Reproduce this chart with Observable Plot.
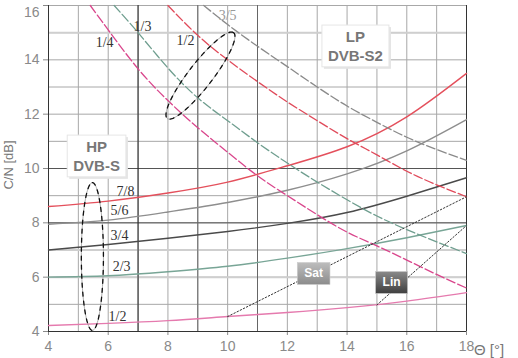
<!DOCTYPE html>
<html><head><meta charset="utf-8">
<script src="https://cdn.jsdelivr.net/npm/d3@7"></script>
<script src="https://cdn.jsdelivr.net/npm/@observablehq/plot@0.6"></script>
<style>
body{margin:0;background:#fff;}
#chart{position:relative;width:518px;height:358px;}
</style></head><body><div id="chart"></div>
<script>
// ---- data ----
const xTicks = [4, 6, 8, 10, 12, 14, 16, 18];
const yTicks = [4, 6, 8, 10, 12, 14, 16];
const gridX = [4, 5, 6, 7, 8, 9, 10, 11, 12, 13, 14, 15, 16, 17, 18];
const gridY = [4, 5, 6, 7, 8, 9, 10, 11, 12, 13, 14, 15, 16];

// HP DVB-S (solid, rising)
const hpX  = [4, 6, 8, 10, 12, 14, 16, 18];
const hp78 = [8.6, 8.8, 9.1, 9.5, 10.1, 10.8, 11.9, 13.5];
const hp56 = [7.95, 8.1, 8.4, 8.75, 9.2, 9.8, 10.65, 11.8];
const hp34 = [7.0, 7.2, 7.43, 7.68, 7.98, 8.38, 8.98, 9.66];
const hp23 = [6.0, 6.05, 6.2, 6.4, 6.7, 7.05, 7.45, 7.9];
const hp12 = [4.22, 4.3, 4.4, 4.55, 4.7, 4.88, 5.12, 5.43];
const hpRates = ["7/8", "5/6", "3/4", "2/3", "1/2"];
const hpLabelX = [6.58, 6.38, 6.38, 6.45, 6.31];
const hpLabelY = [9.15, 8.45, 7.53, 6.39, 4.55];

// LP DVB-S2 (dashed, falling)
const lp14X = [5.4, 6, 7, 8, 9, 10, 11, 12, 13, 14, 15, 16, 17, 18];
const lp14Y = [16, 15.1, 13.67, 12.5, 11.5, 10.6, 9.73, 9.0, 8.3, 7.66, 7.15, 6.63, 6.1, 5.6];
const lp13X = [6.2, 7, 8, 9, 10, 11, 12, 13, 14, 15, 16, 17, 18];
const lp13Y = [16, 15, 13.7, 12.6, 11.76, 10.95, 10.2, 9.5, 8.85, 8.25, 7.75, 7.3, 6.87];
const lp12X = [8, 9, 10, 11, 12, 13, 14, 15, 16, 17, 18];
const lp12Y = [16, 14.9, 14.0, 13.2, 12.45, 11.76, 11.1, 10.5, 9.9, 9.4, 8.96];
const lp35X = [9.2, 10, 11, 12, 13, 14, 15, 16, 17, 18];
const lp35Y = [16, 15.3, 14.5, 13.75, 13.0, 12.3, 11.7, 11.15, 10.7, 10.3];
const lpRates = ["1/4", "1/3", "1/2", "3/5"];
const lpLabelX = [5.88, 7.15, 8.59, 10.0];
const lpLabelY = [14.64, 15.23, 14.71, 15.63];

// Sat / Lin dotted lines
const satX = [10, 18], satY = [4.55, 8.96];
const linX = [15, 18], linY = [4.98, 7.9];

// boxed annotations
const boxTexts = ["LP\nDVB-S2", "HP\nDVB-S"];
const boxX = [14.28, 5.61], boxY = [14.53, 10.48];
const tagTexts = ["Sat", "Lin"];
const tagX = [12.88, 15.49], tagY = [6.13, 5.8];

// grouping ellipses (centre, half-axis vectors in data units)
const ellHP = {cx: 5.47, cy: 6.76, ax: 0, ay: 2.72, bx: 0.37, by: 0};
const ellLP = {cx: 9.09, cy: 13.42, ax: 1.11, ay: 1.58, bx: 0.32, by: -0.27};

// ---- styles ----
const hpColors = ["#e4505c", "#8e8e8e", "#4a4a4a", "#78a596", "#e57aae"];
const hpSeries = [hp78, hp56, hp34, hp23, hp12];
const lpColors = ["#d9468c", "#6f9e8f", "#e04a5a", "#8a8a8a"];
const lpSeries = [[lp14X, lp14Y], [lp13X, lp13Y], [lp12X, lp12Y], [lp35X, lp35Y]];

const ellipse = e => d3.range(0, 361, 3).map(t => {
  const a = t * Math.PI / 180;
  return {x: e.cx + e.ax * Math.cos(a) + e.bx * Math.sin(a), y: e.cy + e.ay * Math.cos(a) + e.by * Math.sin(a)};
});

const marks = [];
// grid
marks.push(Plot.ruleX(gridX, {stroke: "#a8a8a8", strokeWidth: 1}));
marks.push(Plot.ruleY(gridY, {stroke: "#a8a8a8", strokeWidth: 1}));
marks.push(Plot.ruleY([15, 7, 6], {stroke: "#cfcfcf", strokeWidth: 2}));
marks.push(Plot.ruleY([10, 8], {stroke: "#555", strokeWidth: 1}));
marks.push(Plot.ruleX([9, 11], {stroke: "#666", strokeWidth: 1}));
marks.push(Plot.ruleX([7], {stroke: "#222", strokeWidth: 1}));
// frame
marks.push(Plot.ruleX([4, 18], {stroke: "#333", strokeWidth: 1}));
marks.push(Plot.ruleY([4], {stroke: "#333", strokeWidth: 1}));

// HP curves
hpSeries.forEach((ys, i) => {
  marks.push(Plot.line(hpX.map((x, j) => ({x, y: ys[j]})), {x: "x", y: "y", curve: "natural", stroke: hpColors[i], strokeWidth: 1.4}));
});
// LP curves
lpSeries.forEach(([xs, ys], i) => {
  marks.push(Plot.line(xs.map((x, j) => ({x, y: ys[j]})), {x: "x", y: "y", curve: "natural", stroke: lpColors[i], strokeWidth: 1.3, strokeDasharray: "9,3"}));
});
// Sat / Lin
marks.push(Plot.line(satX.map((x, j) => ({x, y: satY[j]})), {x: "x", y: "y", stroke: "#333", strokeWidth: 1, strokeDasharray: "1.5,2"}));
marks.push(Plot.line(linX.map((x, j) => ({x, y: linY[j]})), {x: "x", y: "y", stroke: "#333", strokeWidth: 1, strokeDasharray: "1.5,2"}));

// ellipses
[ellHP, ellLP].forEach(e => {
  marks.push(Plot.line(ellipse(e), {x: "x", y: "y", stroke: "#999", strokeWidth: 0.8, curve: "linear"}));
  marks.push(Plot.line(ellipse(e), {x: "x", y: "y", stroke: "#111", strokeWidth: 1.3, strokeDasharray: "4,5", curve: "linear"}));
});

// rate labels
marks.push(Plot.text(hpRates.map((t, i) => ({t, x: hpLabelX[i], y: hpLabelY[i]})), {x: "x", y: "y", text: "t", fontFamily: "Liberation Serif", fontSize: 14, fill: "#333"}));
marks.push(Plot.text(lpRates.map((t, i) => ({t, x: lpLabelX[i], y: lpLabelY[i]})), {x: "x", y: "y", text: "t", fontFamily: "Liberation Serif", fontSize: 14, fill: (d) => d.t === "3/5" ? "#999" : "#333"}));

// boxes
marks.push(Plot.text(boxTexts.map((t, i) => ({t, x: boxX[i], y: boxY[i]})), {x: "x", y: "y", text: "t", fontFamily: "Liberation Sans", fontWeight: "bold", fontSize: 15, fill: "#777", lineHeight: 1.25}));
marks.push(Plot.text(tagTexts.map((t, i) => ({t, x: tagX[i], y: tagY[i]})), {x: "x", y: "y", text: "t", fontFamily: "Liberation Sans", fontWeight: "bold", fontSize: 12, fill: "#fff"}));

const chart = Plot.plot({
  width: 518, height: 358,
  marginLeft: 48, marginRight: 52, marginTop: 5, marginBottom: 27,
  style: {fontFamily: "Liberation Sans", fontSize: "14px", color: "#8a8a8a", background: "#fff", overflow: "visible"},
  x: {domain: [4, 18], ticks: xTicks, tickSize: 4, tickPadding: 6, label: null},
  y: {domain: [4, 16], ticks: yTicks, tickSize: 5, tickPadding: 4, label: null},
  color: {type: "identity"},
  marks
});
document.getElementById("chart").appendChild(chart);

// post: boxes behind annotation texts, axis titles
const svg = chart.tagName.toLowerCase() === "svg" ? chart : chart.querySelector("svg");
const NS = "http://www.w3.org/2000/svg";
const defs = document.createElementNS(NS, "defs");
defs.innerHTML = `
<linearGradient id="gSat" x1="0" y1="0" x2="0" y2="1"><stop offset="0" stop-color="#bdbdbd"/><stop offset="1" stop-color="#8c8c8c"/></linearGradient>
<linearGradient id="gLin" x1="0" y1="0" x2="0" y2="1"><stop offset="0" stop-color="#8a8a8a"/><stop offset="1" stop-color="#3f3f3f"/></linearGradient>`;
svg.insertBefore(defs, svg.firstChild);
svg.querySelectorAll("text").forEach(el => {
  const s = el.textContent;
  let kind = null;
  if (s === "LPDVB-S2" || s === "HPDVB-S") kind = "box";
  else if (s === "Sat") kind = "sat";
  else if (s === "Lin") kind = "lin";
  if (!kind) return;
  const b = el.getBBox();
  const tr = el.getAttribute("transform");
  const mk = (attrs) => {
    const r = document.createElementNS(NS, "rect");
    for (const k in attrs) r.setAttribute(k, attrs[k]);
    if (tr) r.setAttribute("transform", tr);
    el.parentNode.insertBefore(r, el);
    return r;
  };
  if (kind === "box") {
    const px = 6, py = 3;
    mk({x: b.x - px + 2, y: b.y - py + 2, width: b.width + 2 * px, height: b.height + 2 * py, fill: "#e4e4e4"});
    mk({x: b.x - px, y: b.y - py, width: b.width + 2 * px, height: b.height + 2 * py, fill: "#fff", stroke: "#e6e6e6"});
  } else {
    const px = 7, py = 4;
    mk({x: b.x - px, y: b.y - py, width: b.width + 2 * px, height: b.height + 2 * py, fill: kind === "sat" ? "url(#gSat)" : "url(#gLin)", stroke: "#ccc", "stroke-width": 0.6});
  }
});
// keep the topmost y tick label inside the picture
svg.querySelectorAll("g[aria-label='y-axis tick label'] text, g[aria-label='y-axis'] text").forEach(el => {
  if (el.textContent === "16") {
    const b = el.getBBox();
    const m = el.getCTM();
    const top = b.y * m.d + m.f;
    if (top < 0) el.setAttribute("dy", (parseFloat(getComputedStyle(el).fontSize) * 0.32 - top) + "px");
  }
});
const addText = (str, x, y, extra) => {
  const t = document.createElementNS(NS, "text");
  t.textContent = str;
  t.setAttribute("x", x); t.setAttribute("y", y);
  t.setAttribute("fill", "#777");
  t.setAttribute("font-family", "Liberation Sans");
  for (const k in extra) t.setAttribute(k, extra[k]);
  svg.appendChild(t);
};
addText("C/N [dB]", 0, 0, {"font-size": 13, "text-anchor": "middle", transform: "translate(13,165) rotate(-90)"});
addText("Θ [°]", 489, 355, {"font-size": 15});
</script></body></html>
